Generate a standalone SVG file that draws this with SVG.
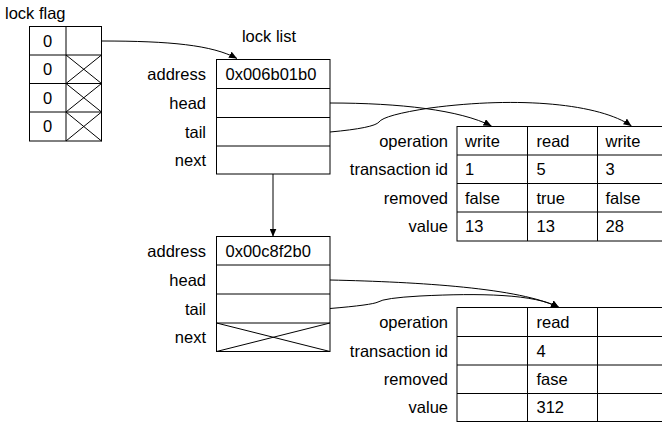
<svg xmlns="http://www.w3.org/2000/svg" width="662" height="423" viewBox="0 0 662 423">
<defs>
<marker id="ah" viewBox="0 0 8 7" refX="8" refY="3.5" markerWidth="8" markerHeight="7" markerUnits="userSpaceOnUse" orient="auto">
<path d="M0,0 L8,3.5 L0,7 z" fill="#000"/>
</marker>
</defs>
<style>
text{font-family:"Liberation Sans",Arial,sans-serif;font-size:16.5px;fill:#000}
.r{text-anchor:end}
.c{text-anchor:middle}
.box{fill:#fff;stroke:#000;stroke-width:1}
.ln{stroke:#000;stroke-width:1;fill:none}
.edge{stroke:#000;stroke-width:1;fill:none;marker-end:url(#ah)}
</style>
<rect width="662" height="423" fill="#fff"/>

<g id="lock-flag">
<text x="5" y="19">lock flag</text>
<rect class="box" x="29.5" y="26.5" width="72" height="114.5"/>
<path class="ln" d="M66,26.5 V141 M29.5,55 H101.5 M29.5,83.5 H101.5 M29.5,112 H101.5 M66,55 L101.5,83.5 M66,83.5 L101.5,55 M66,83.5 L101.5,112 M66,112 L101.5,83.5 M66,112 L101.5,141 M66,141 L101.5,112"/>
<text class="c" x="47.5" y="46.5">0</text>
<text class="c" x="47.5" y="75">0</text>
<text class="c" x="47.5" y="103.5">0</text>
<text class="c" x="47.5" y="132">0</text>
</g>

<g id="lock-list-1">
<text class="c" x="269" y="41.5">lock list</text>
<rect class="box" x="216.5" y="59.5" width="113.5" height="114.5"/>
<path class="ln" d="M216.5,88.5 H330 M216.5,117.5 H330 M216.5,146 H330"/>
<text class="r" x="206" y="80">address</text>
<text class="r" x="206" y="109">head</text>
<text class="r" x="206" y="138">tail</text>
<text class="r" x="206" y="166">next</text>
<text x="225.5" y="80">0x006b01b0</text>
</g>

<g id="lock-list-2">
<rect class="box" x="216.5" y="236.5" width="113.5" height="115"/>
<path class="ln" d="M216.5,265 H330 M216.5,294 H330 M216.5,323 H330 M216.5,323 L330,351.5 M216.5,351.5 L330,323"/>
<text class="r" x="206" y="257">address</text>
<text class="r" x="206" y="285.5">head</text>
<text class="r" x="206" y="314.5">tail</text>
<text class="r" x="206" y="343">next</text>
<text x="225.5" y="257">0x00c8f2b0</text>
</g>

<g id="table-1">
<rect class="box" x="457" y="126.5" width="213" height="114.5"/>
<path class="ln" d="M457,155 H670 M457,183.5 H670 M457,212 H670 M527.5,126.5 V241 M597.5,126.5 V241"/>
<text class="r" x="448" y="146.5">operation</text>
<text class="r" x="448" y="175">transaction id</text>
<text class="r" x="448" y="203.5">removed</text>
<text class="r" x="448" y="232">value</text>
<text x="465" y="146.5">write</text>
<text x="536.5" y="146.5">read</text>
<text x="605.5" y="146.5">write</text>
<text x="465" y="175">1</text>
<text x="536.5" y="175">5</text>
<text x="605.5" y="175">3</text>
<text x="465" y="203.5">false</text>
<text x="536.5" y="203.5">true</text>
<text x="605.5" y="203.5">false</text>
<text x="465" y="232">13</text>
<text x="536.5" y="232">13</text>
<text x="605.5" y="232">28</text>
</g>

<g id="table-2">
<rect class="box" x="457" y="307.5" width="213" height="114"/>
<path class="ln" d="M457,336.5 H670 M457,365 H670 M457,393.5 H670 M527.5,307.5 V421.5 M597.5,307.5 V421.5"/>
<text class="r" x="448" y="328">operation</text>
<text class="r" x="448" y="356.5">transaction id</text>
<text class="r" x="448" y="385">removed</text>
<text class="r" x="448" y="413">value</text>
<text x="536.5" y="328">read</text>
<text x="536.5" y="356.5">4</text>
<text x="536.5" y="385">fase</text>
<text x="536.5" y="413">312</text>
</g>

<g id="connectors">
<path class="edge" d="M101.5,41 C170,41 212,45 237,58.5"/>
<path class="edge" d="M273,174 V236.5"/>
<path class="edge" d="M330,103 C400,103 460,110 491.5,126"/>
<path class="edge" d="M330,132 Q374,128 379,122 Q384,115 430,108 C520,96 600,104 631.5,126"/>
<path class="edge" d="M330,280 C420,282 520,288 559,307.5"/>
<path class="edge" d="M330,308.5 Q372,305 378,302 Q384,298 420,296 C480,293 535,294 559,307.5"/>
</g>
</svg>
